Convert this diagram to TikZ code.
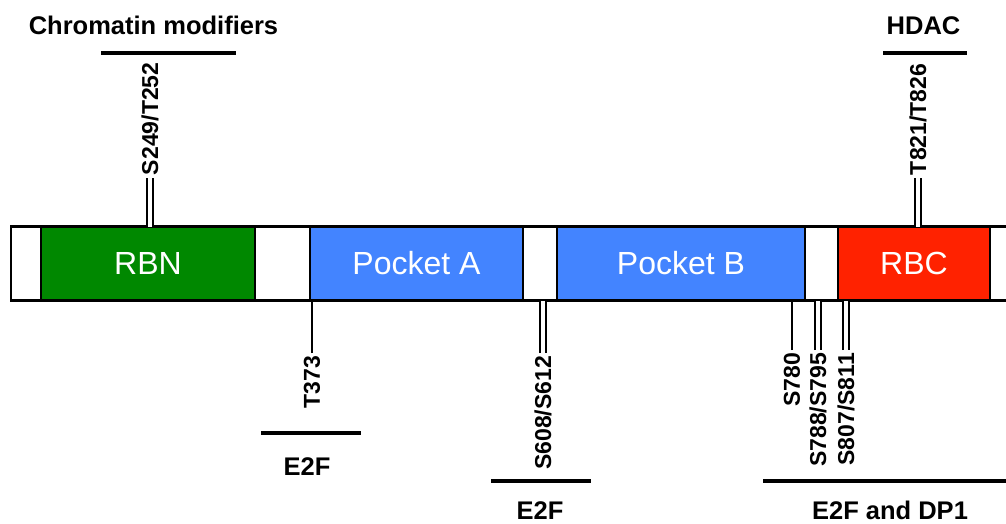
\documentclass[tikz,border=0pt]{standalone}
\usepackage{fontspec}
\setmainfont{Liberation Sans}
\definecolor{rbngreen}{HTML}{008800}
\definecolor{pocketblue}{HTML}{4384FF}
\definecolor{rbcred}{HTML}{FF2200}
\begin{document}
\begin{tikzpicture}[x=1pt,y=-1pt,
  seg/.style={draw, line width=2.5pt, minimum height=74pt, inner sep=0pt, outer sep=0pt,
    anchor=west, text=white, font=\fontsize{32}{36}\selectfont},
  site/.style={rotate=90, font=\bfseries\fontsize{23}{26}\selectfont, inner sep=3pt, outer sep=0pt},
  dbl/.style={draw, double=white, line width=2pt, double distance=3.5pt},
  sgl/.style={draw, line width=2.4pt},
  ibar/.style={fill=black, minimum height=4.5pt, inner sep=0pt, outer sep=0pt},
  partner/.style={anchor=base, font=\bfseries\fontsize{25.5}{30}\selectfont, inner sep=0pt}]
\clip (0,0) rectangle (1006,523);
\fill[white] (0,0) rectangle (1006,523);

% protein bar, drawn segment by segment
\node[seg, minimum width=30pt, fill=white] (w0) at (11,263.5) {};
\node[seg, minimum width=214pt, fill=rbngreen] (rbn) at (w0.east) {RBN};
\node[seg, minimum width=55pt, fill=white] (w1) at (rbn.east) {};
\node[seg, minimum width=213pt, fill=pocketblue] (pa) at (w1.east) {Pocket A};
\node[seg, minimum width=34pt, fill=white] (w2) at (pa.east) {};
\node[seg, minimum width=248pt, fill=pocketblue] (pb) at (w2.east) {Pocket B};
\node[seg, minimum width=33pt, fill=white] (w3) at (pb.east) {};
\node[seg, minimum width=152pt, fill=rbcred] (rbc) at (w3.east) {RBC};
\node[seg, minimum width=40pt, fill=white] (w4) at (rbc.east) {};

% phosphorylation sites above the bar
\node[site, anchor=west] (s249) at (150,178) {S249/T252};
\draw[dbl] (s249.west) -- (s249.west |- rbn.north);
\node[site, anchor=west] (t821) at (918,178) {T821/T826};
\draw[dbl] (t821.west) -- (t821.west |- rbc.north);

% phosphorylation sites below the bar
\node[site, anchor=east] (t373) at (312,353) {T373};
\draw[sgl] (t373.east) -- (t373.east |- pa.south);
\node[site, anchor=east] (s608) at (543,353) {S608/S612};
\draw[dbl] (s608.east) -- (s608.east |- w2.south);
\node[site, anchor=east] (s780) at (792,350) {S780};
\draw[sgl] (s780.east) -- (s780.east |- pb.south);
\node[site, anchor=east] (s788) at (818,350) {S788/S795};
\draw[dbl] (s788.east) -- (s788.east |- w3.south);
\node[site, anchor=east] (s807) at (846,350) {S807/S811};
\draw[dbl] (s807.east) -- (s807.east |- rbc.south);

% binding partners
\node[ibar, minimum width=135pt] (cmbar) at (168.5,53) {};
\node[partner] (cm) at (153.5,34) {Chromatin modifiers};
\node[ibar, minimum width=84pt] (hdacbar) at (925,53) {};
\node[partner] (hdac) at (923.5,34) {HDAC};
\node[ibar, minimum width=100pt] (e2fbarA) at (311,433) {};
\node[partner] (e2fA) at (307,475.5) {E2F};
\node[ibar, minimum width=100pt] (e2fbarB) at (541,481) {};
\node[partner] (e2fB) at (540,519) {E2F};
\node[ibar, minimum width=260pt] (dpbar) at (893,481) {};
\node[partner] (dp) at (890,519) {E2F and DP1};
\end{tikzpicture}
\end{document}
